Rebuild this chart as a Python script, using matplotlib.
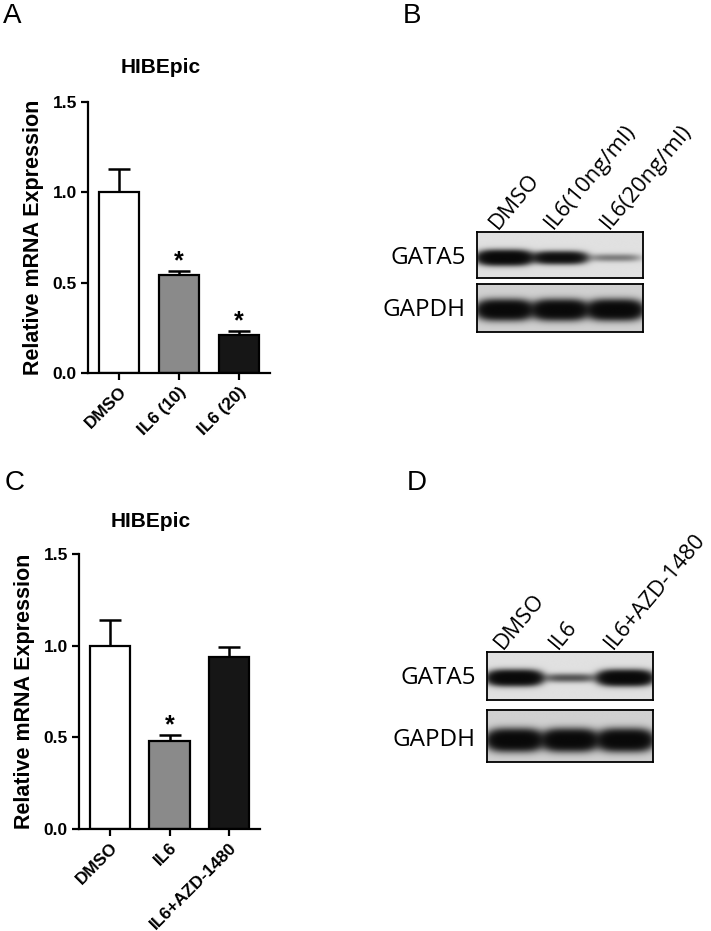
import matplotlib.pyplot as plt
import numpy as np

# qPCR bars (relative mRNA expression, mean and upper SEM)
groups_a = ["DMSO", "IL6 (10)", "IL6 (20)"]
expr_a = [1.0, 0.54, 0.21]
err_a = [0.13, 0.025, 0.025]
sig_a = [False, True, True]

groups_c = ["DMSO", "IL6", "IL6+AZD-1480"]
expr_c = [1.0, 0.48, 0.94]
err_c = [0.14, 0.035, 0.055]
sig_c = [False, True, False]

bar_colors = ["white", "#8a8a8a", "#161616"]

# western blots: band strength per lane (0 = nothing, 1 = saturated)
lanes_b = ["DMSO", "IL6(10ng/ml)", "IL6(20ng/ml)"]
gata5_b = [1.0, 0.7, 0.12]
gapdh_b = [1.0, 1.0, 1.0]

lanes_d = ["DMSO", "IL6", "IL6+AZD-1480"]
gata5_d = [1.0, 0.2, 1.0]
gapdh_d = [1.0, 1.0, 1.0]

plt.rcParams["font.family"] = ["Liberation Sans", "DejaVu Sans"]
blot_font = ["Open Sans", "DejaVu Sans"]

W, H = 711, 931
fig = plt.figure(figsize=(W / 100, H / 100), dpi=100)


def px(l, t, r, b):
    # pixel box -> figure fraction
    return [l / W, 1 - b / H, (r - l) / W, (b - t) / H]


def bar_panel(rect, names, vals, errs, stars):
    ax = fig.add_axes(rect)
    x = np.arange(len(vals))
    ax.errorbar(x, vals, yerr=[np.zeros(len(errs)), errs], fmt="none",
                ecolor="black", elinewidth=1.8, capsize=8, capthick=1.8, zorder=1)
    ax.bar(x, vals, width=0.68, color=bar_colors, edgecolor="black",
           linewidth=1.6, zorder=2)
    for i in range(len(vals)):
        if stars[i]:
            ax.annotate("*", (x[i], vals[i] + errs[i]), xytext=(0, -2),
                        textcoords="offset points", ha="center", va="bottom",
                        fontsize=18, fontweight="bold")
    ax.set_xlim(-0.52, len(vals) - 0.48)
    ax.set_ylim(0, 1.5)
    ax.set_yticks([0, 0.5, 1.0, 1.5])
    ax.set_yticklabels(["0.0", "0.5", "1.0", "1.5"], fontweight="bold", fontsize=12.5)
    ax.set_xticks(x)
    ax.set_xticklabels(names, rotation=45, ha="right", va="top",
                       rotation_mode="anchor", fontweight="bold", fontsize=12.5)
    ax.tick_params(direction="out", length=5, width=1.6, pad=3)
    for s in ["top", "right"]:
        ax.spines[s].set_visible(False)
    for s in ["left", "bottom"]:
        ax.spines[s].set_linewidth(1.6)
    ax.set_ylabel("Relative mRNA Expression", fontsize=15.5, fontweight="bold", labelpad=6)
    return ax


def blot_strip(rect, strengths, center, thick, bg, label):
    ax = fig.add_axes(rect)
    n = len(strengths)
    X, Y = np.meshgrid(np.linspace(0, n, 420), np.linspace(0, 1, 140))
    signal = np.zeros_like(X)
    for i, s in enumerate(strengths):
        dx = (X - (i + 0.5)) / 0.45
        dy = (Y - center) / (thick * (0.6 + 0.4 * s))
        signal += s * np.exp(-dx ** 4) * np.exp(-dy ** 2)
    dark = 1 - np.exp(-5 * signal)
    shade = bg * (1 - dark) + 0.03 * dark
    ax.imshow(shade, cmap="gray", vmin=0, vmax=1, extent=(0, n, 0, 1),
              origin="lower", aspect="auto", interpolation="bilinear")
    ax.set_xlim(0, n)
    ax.set_ylim(0, 1)
    ax.set_xticks([])
    ax.set_yticks([])
    for sp in ax.spines.values():
        sp.set_linewidth(1.3)
    ax.annotate(label, (0, center), xycoords=("axes fraction", "data"),
                xytext=(-8, 0), textcoords="offset points", ha="right",
                va="center", fontsize=17.5, family=blot_font)
    return ax


def lane_labels(ax, names, shift):
    for i, name in enumerate(names):
        ax.text(i + 0.5 + shift, 1.04, name, rotation=50, rotation_mode="anchor",
                ha="left", va="baseline", fontsize=16, clip_on=False,
                family=blot_font)


# panel A
bar_panel(px(88, 102, 270, 373), groups_a, expr_a, err_a, sig_a)
fig.text(161 / W, 1 - 73 / H, "HIBEpic", ha="center", va="baseline",
         fontsize=15, fontweight="bold")

# panel C
bar_panel(px(79, 554, 260, 829), groups_c, expr_c, err_c, sig_c)
fig.text(151 / W, 1 - 527 / H, "HIBEpic", ha="center", va="baseline",
         fontsize=15, fontweight="bold")

# panel B
top = blot_strip(px(477, 232, 643, 278), gata5_b, 0.44, 0.125, 0.88, "GATA5")
blot_strip(px(477, 284, 643, 332), gapdh_b, 0.46, 0.16, 0.82, "GAPDH")
lane_labels(top, lanes_b, -0.12)

# panel D
top = blot_strip(px(487, 652, 653, 700), gata5_d, 0.46, 0.125, 0.88, "GATA5")
blot_strip(px(487, 710, 653, 762), gapdh_d, 0.42, 0.16, 0.82, "GAPDH")
lane_labels(top, lanes_d, -0.22)

for letter, x, y in [("A", 3, 23), ("B", 403, 23), ("C", 5, 490), ("D", 407, 490)]:
    fig.text(x / W, 1 - y / H, letter, fontsize=20, va="baseline")

fig.savefig("out.png", dpi=100)
